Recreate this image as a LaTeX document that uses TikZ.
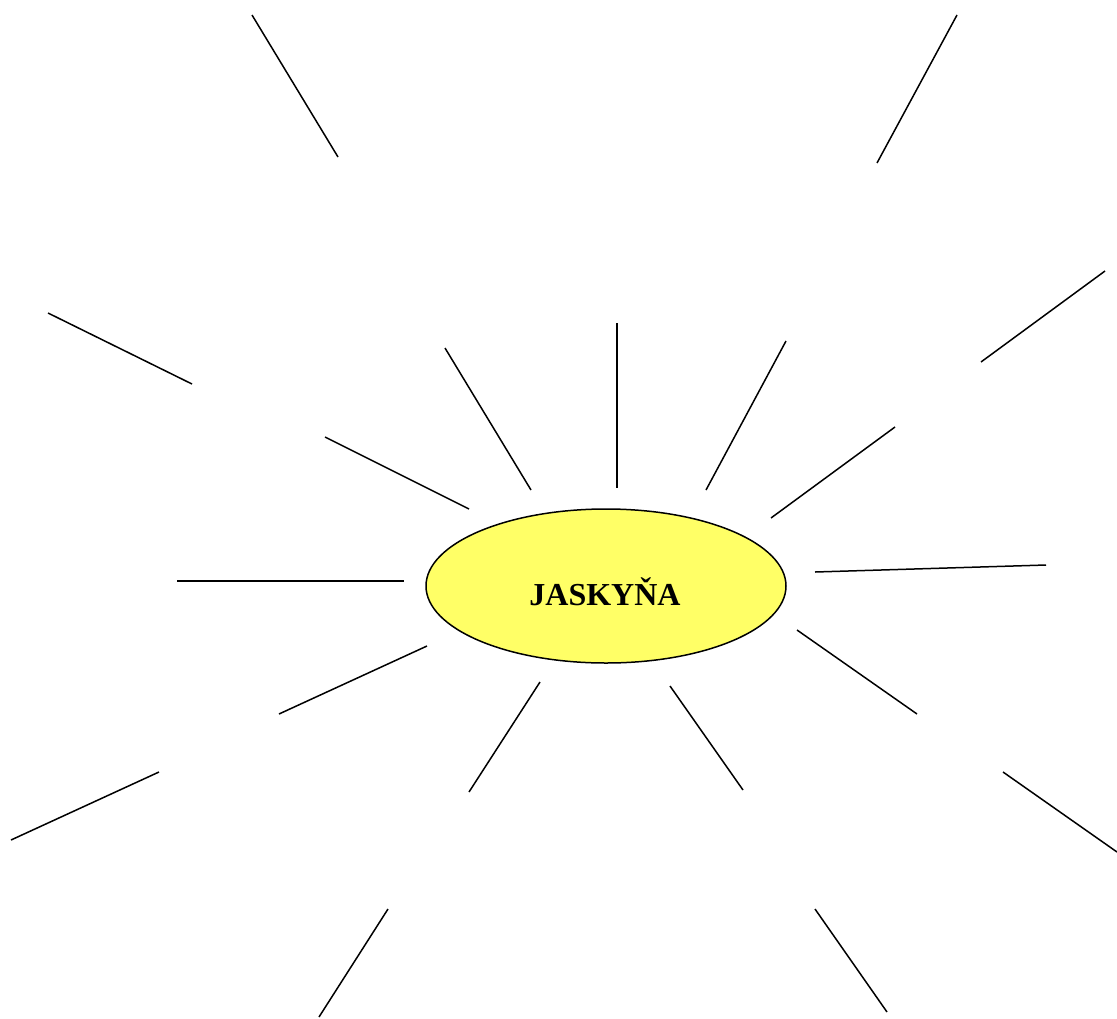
\documentclass[tikz,border=0pt]{standalone}
\usepackage{fontspec}
\setmainfont{Liberation Serif}
\usetikzlibrary{shapes.geometric}
\definecolor{sunyellow}{RGB}{255,255,102}
\begin{document}
\begin{tikzpicture}[x=1pt,y=-1pt,ray/.style={line width=1.5pt,black}]
\useasboundingbox (0,0) rectangle (1117,1018);
\node[ellipse,draw,line width=1.5pt,fill=sunyellow,minimum width=360pt,minimum height=154pt,inner sep=0pt] (c) at (606,586) {};
\node[font=\bfseries\fontsize{32}{32}\selectfont] (t) at (605,592) {JASKYŇA};
\foreach \n/\a/\b/\c/\d in {
 1/252/15/338/157, 2/957/15/877/163, 3/48/313/192/384, 4/1105/271/981/362,
 5/445/348/531/490, 6/617/323/617/488, 7/786/341/706/490, 8/895/427/771/518,
 9/325/437/469/509, 10/177/581/404/581, 11/815/572/1046/565, 12/427/646/279/714,
 13/797/630/917/714, 14/540/682/469/792, 15/670/686/743/790, 16/159/772/11/840,
 17/1003/772/1117/852, 18/388/909/319/1017, 19/815/909/887/1012}{
 \coordinate (p\n) at (\a,\b);
 \coordinate (q\n) at (\c,\d);
 \draw[ray] (p\n) -- (q\n);
}
\end{tikzpicture}
\end{document}
